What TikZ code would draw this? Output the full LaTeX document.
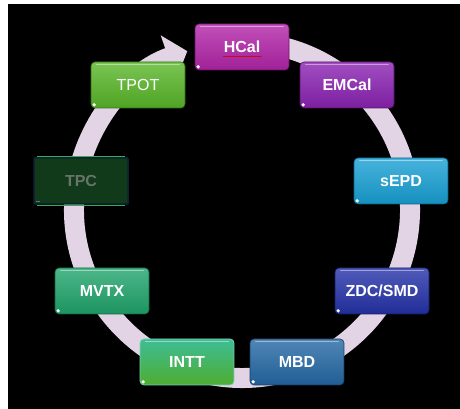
\documentclass[tikz,border=0pt]{standalone}
\usepackage{fontspec}
\setmainfont{Liberation Sans}
\usepackage{tikz}
\usetikzlibrary{positioning}
\usetikzlibrary{calc}
\usetikzlibrary{arrows.meta}
\usetikzlibrary{decorations.pathmorphing}
\definecolor{ring}{RGB}{226,212,228}
\definecolor{hcalc}{RGB}{178,36,168}
\definecolor{emcalc}{RGB}{138,34,178}
\definecolor{sepdc}{RGB}{24,160,212}
\definecolor{zdcc}{RGB}{36,50,168}
\definecolor{mbdc}{RGB}{36,104,164}
\definecolor{inttc}{RGB}{78,172,48}
\definecolor{intttop}{RGB}{62,190,150}
\definecolor{mvtxc}{RGB}{32,164,108}
\definecolor{tpcc}{RGB}{16,58,26}
\definecolor{tpctext}{RGB}{105,115,105}
\definecolor{tpcline}{RGB}{14,34,54}
\definecolor{tpcglow}{RGB}{60,170,80}
\definecolor{tpotc}{RGB}{88,182,40}
\tikzset{det/.style={minimum width=94pt,minimum height=46pt,rounded corners=4pt,text=white,font=\fontsize{16}{19}\selectfont\bfseries,inner sep=0pt},
dcol/.style={det,top color=#1!80!white,bottom color=#1!90!black,draw=#1!60!black,line width=0.6pt}}

\begin{document}
\begin{tikzpicture}[x=1pt,y=1pt]
\useasboundingbox (0,0) rectangle (460,409);
\fill[black] (8,0) rectangle (460,405);

% ring with arrow
\coordinate (c) at (242,199);
\draw[ring,line width=20pt,-{Triangle[length=20pt,width=46pt]}] ($(c)+(80:168)$) arc[start angle=80,end angle=-251,radius=168];

\node (hcal) at (242,362) [dcol=hcalc] {HCal};
\node (emcal) at (347,324) [dcol=emcalc] {EMCal};
\node (sepd) at (401,228) [dcol=sepdc] {sEPD};
\node (zdc) at (382,118) [dcol=zdcc] {ZDC/SMD};
\node (mbd) at (297,47) [dcol=mbdc] {MBD};
\node (intt) at (187,47) [det,top color=intttop,bottom color=inttc,draw=intttop!70!white,line width=0.8pt] {INTT};
\node (mvtx) at (102,118) [dcol=mvtxc] {MVTX};
\node (tpc) at (81,228) [det,fill=tpcc,draw=tpcline,line width=1.5pt,text=tpctext,rounded corners=1pt] {TPC};
\draw[tpcglow,line width=0.8pt,rounded corners=2pt] ([xshift=4pt,yshift=1pt]tpc.north west) -- ([xshift=-4pt,yshift=1pt]tpc.north east);
\draw[tpcglow,line width=0.8pt,rounded corners=2pt] ([xshift=4pt,yshift=-1pt]tpc.south west) -- ([xshift=-4pt,yshift=-1pt]tpc.south east);
\node (tpot) at (138,324) [dcol=tpotc,font=\fontsize{16}{19}\selectfont] {TPOT};

\draw[red!80!black,line width=0.4pt,decorate,decoration={snake,amplitude=0.4pt,segment length=1.6pt}] ([xshift=-19pt,yshift=-9.5pt]hcal.center) -- ([xshift=20pt,yshift=-9.5pt]hcal.center);

% gloss
\foreach \n in {hcal,emcal,sepd,zdc,mbd,intt,mvtx,tpot}{
  \draw[white,opacity=0.45,line width=1.5pt,line cap=round] ([xshift=6pt,yshift=-3pt]\n.north west) -- ([xshift=-6pt,yshift=-3pt]\n.north east);
  \fill[white] ([xshift=3.5pt,yshift=3.5pt]\n.south west) circle (1.8pt);
}
\fill[tpctext] ([xshift=3pt,yshift=3pt]tpc.south west) rectangle ++(4pt,1.2pt);

\end{tikzpicture}
\end{document}
